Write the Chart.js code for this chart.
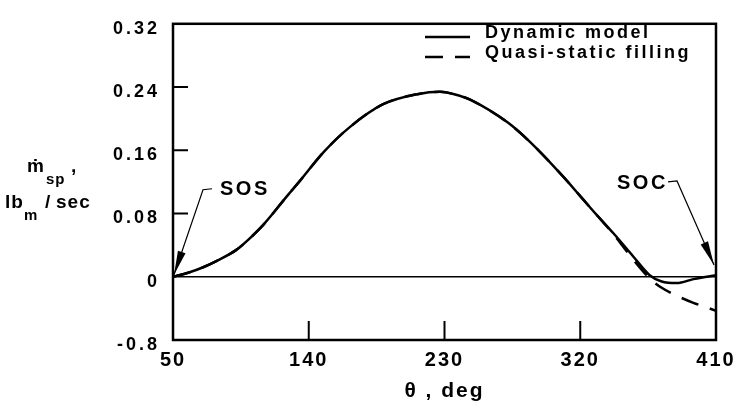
<!DOCTYPE html>
<html>
<head>
<meta charset="utf-8">
<script src="https://cdn.jsdelivr.net/npm/chart.js@4.4.1/dist/chart.umd.min.js"></script>
<style>
  html, body { margin: 0; padding: 0; background: #fff; }
</style>
</head>
<body>
<canvas id="massFlowChart" width="743" height="412"></canvas>
<script>
// crank angle, deg
const theta = [50, 60, 70, 80, 92, 100, 110, 126, 134, 150, 167, 189, 212, 227, 240, 247, 272, 287, 309, 320, 331, 342, 355, 366, 374, 384, 395, 404, 410];
// mass flow, lbm/sec
const dynamicModel = [0, 0.005, 0.012, 0.021, 0.034, 0.047, 0.066, 0.103, 0.121, 0.158, 0.189, 0.218, 0.231, 0.234, 0.229, 0.224, 0.195, 0.170, 0.126, 0.102, 0.078, 0.055, 0.026, 0.002, -0.006, -0.008, -0.003, 0.000, 0.002];
const quasiStatic = [0, 0.005, 0.012, 0.021, 0.034, 0.047, 0.066, 0.103, 0.121, 0.158, 0.189, 0.218, 0.231, 0.234, 0.229, 0.224, 0.195, 0.170, 0.126, 0.102, 0.078, 0.054, 0.022, -0.002, -0.014, -0.024, -0.033, -0.039, -0.043];

const xTicks = [50, 140, 230, 320, 410];
const xTickLabels = ["50", "140", "230", "320", "410"];
const yTicks = [-0.08, 0, 0.08, 0.16, 0.24, 0.32];
const yTickLabels = ["-0.8", "0", "0.08", "0.16", "0.24", "0.32"];

const FONT = "'Liberation Sans', Arial, 'DejaVu Sans', sans-serif";

// letter spacing for scale texts (chart.js has no option for it)
function spaced(scale, spacing) {
    if (scale._spaced) return;
    scale._spaced = true;
    ["drawLabels", "drawTitle"].forEach(fn => {
        const orig = scale[fn];
        scale[fn] = function (...args) {
            const ctx = this.ctx;
            const prev = ctx.letterSpacing;
            ctx.letterSpacing = spacing;
            orig.apply(this, args);
            ctx.letterSpacing = prev;
        };
    });
}

function drawArrow(ctx, pts) {
    ctx.beginPath();
    ctx.moveTo(pts[0][0], pts[0][1]);
    for (let i = 1; i < pts.length; i++) ctx.lineTo(pts[i][0], pts[i][1]);
    ctx.stroke();
    const [x1, y1] = pts[pts.length - 2];
    const [x2, y2] = pts[pts.length - 1];
    const a = Math.atan2(y2 - y1, x2 - x1);
    const len = 24, half = 4;
    ctx.beginPath();
    ctx.moveTo(x2, y2);
    ctx.lineTo(x2 - len * Math.cos(a) + half * Math.sin(a), y2 - len * Math.sin(a) - half * Math.cos(a));
    ctx.lineTo(x2 - len * Math.cos(a) - half * Math.sin(a), y2 - len * Math.sin(a) + half * Math.cos(a));
    ctx.closePath();
    ctx.fill();
}

const paperPlugin = {
    id: "paper",
    beforeDraw(chart) {
        const ctx = chart.ctx;
        ctx.save();
        ctx.fillStyle = "#fff";
        ctx.fillRect(0, 0, chart.width, chart.height);
        ctx.restore();
    },
    afterLayout(chart) {
        spaced(chart.scales.x, "2px");
        spaced(chart.scales.y, "3px");
    },
    afterDatasetsDraw(chart) {
        const { ctx, chartArea: a, scales: { x, y } } = chart;
        ctx.save();
        ctx.strokeStyle = "#000";
        ctx.fillStyle = "#000";

        // frame
        ctx.lineWidth = 2.5;
        ctx.strokeRect(a.left, a.top, a.right - a.left, a.bottom - a.top);

        // zero line
        ctx.lineWidth = 1.5;
        ctx.beginPath();
        ctx.moveTo(a.left, y.getPixelForValue(0));
        ctx.lineTo(a.right, y.getPixelForValue(0));
        ctx.stroke();

        // inward tick marks
        ctx.lineWidth = 2;
        ctx.beginPath();
        yTicks.filter(v => v > 0 && v < y.max).forEach(v => {
            const py = y.getPixelForValue(v);
            ctx.moveTo(a.left, py);
            ctx.lineTo(a.left + 15, py);
        });
        xTicks.slice(1, -1).forEach(v => {
            const px = x.getPixelForValue(v);
            ctx.moveTo(px, a.bottom);
            ctx.lineTo(px, a.bottom - 19);
        });
        ctx.stroke();

        // legend
        const rows = [37, 57];
        ctx.font = `bold 18px ${FONT}`;
        ctx.letterSpacing = "2.5px";
        ctx.textBaseline = "alphabetic";
        chart.data.datasets.forEach((ds, i) => {
            ctx.lineWidth = 2.5;
            ctx.setLineDash(ds.borderDash || []);
            ctx.beginPath();
            ctx.moveTo(425, rows[i]);
            ctx.lineTo(470, rows[i]);
            ctx.stroke();
            ctx.setLineDash([]);
            ctx.fillText(ds.label, 485, rows[i] + 1);
        });

        // SOS / SOC call-outs
        ctx.lineWidth = 1.2;
        ctx.font = `bold 20px ${FONT}`;
        ctx.letterSpacing = "2.5px";
        const sos = [x.getPixelForValue(50) + 1, y.getPixelForValue(0) - 2];
        drawArrow(ctx, [[sos[0] + 38, sos[1] - 86], [sos[0] + 29, sos[1] - 85], sos]);
        ctx.fillText("SOS", sos[0] + 46, sos[1] - 80);

        const soc = [x.getPixelForValue(410) - 2, y.getPixelForValue(0.015)];
        drawArrow(ctx, [[soc[0] - 46, soc[1] - 83], [soc[0] - 37, soc[1] - 84], soc]);
        ctx.fillText("SOC", soc[0] - 97, soc[1] - 76);

        // y-axis title with subscripts
        ctx.letterSpacing = "1px";
        ctx.font = `bold 19px ${FONT}`;
        ctx.fillText("\u1E41", 27, 172);
        ctx.fillText(",", 71, 172);
        ctx.fillText("lb", 5, 208);
        ctx.fillText("/", 45, 208);
        ctx.fillText("sec", 56, 208);
        ctx.font = `bold 15px ${FONT}`;
        ctx.fillText("sp", 46, 184);
        ctx.fillText("m", 24, 220);
        ctx.restore();
    }
};

const ctx = document.getElementById("massFlowChart").getContext("2d");
new Chart(ctx, {
    type: "line",
    data: {
        datasets: [{
            label: "Dynamic model",
            data: theta.map((t, i) => ({ x: t, y: dynamicModel[i] })),
            borderColor: "#000",
            borderWidth: 2.5
        }, {
            label: "Quasi-static filling",
            data: theta.map((t, i) => ({ x: t, y: quasiStatic[i] })),
            borderColor: "#000",
            borderWidth: 2.5,
            borderDash: [18, 12]
        }]
    },
    options: {
        responsive: false,
        animation: false,
        layout: { padding: { left: 0, right: 27, top: 14, bottom: 0 }, autoPadding: false },
        elements: { point: { radius: 0 }, line: { cubicInterpolationMode: "monotone" } },
        plugins: { legend: { display: false }, tooltip: { enabled: false } },
        scales: {
            x: {
                type: "linear",
                min: 50,
                max: 410,
                afterBuildTicks: s => { s.ticks = xTicks.map(v => ({ value: v })); },
                afterFit: s => { s.height = 72; },
                grid: { display: false, drawTicks: false },
                border: { display: false },
                ticks: {
                    padding: 8,
                    color: "#000",
                    maxRotation: 0,
                    autoSkip: false,
                    font: { family: FONT, size: 20, weight: "bold" },
                    callback: (v, i) => xTickLabels[i]
                },
                title: {
                    display: true,
                    text: "θ , deg",
                    color: "#000",
                    font: { family: FONT, size: 21, weight: "bold" },
                    padding: { top: 0, bottom: 8 }
                }
            },
            y: {
                min: -0.08,
                max: 0.32,
                afterBuildTicks: s => { s.ticks = yTicks.map(v => ({ value: v })); },
                afterFit: s => { s.width = 173; },
                grid: { display: false, drawTicks: false },
                border: { display: false },
                ticks: {
                    padding: 13,
                    labelOffset: 5,
                    color: "#000",
                    autoSkip: false,
                    font: { family: FONT, size: 18, weight: "bold" },
                    callback: (v, i) => yTickLabels[i]
                }
            }
        }
    },
    plugins: [paperPlugin]
});
</script>
</body>
</html>
